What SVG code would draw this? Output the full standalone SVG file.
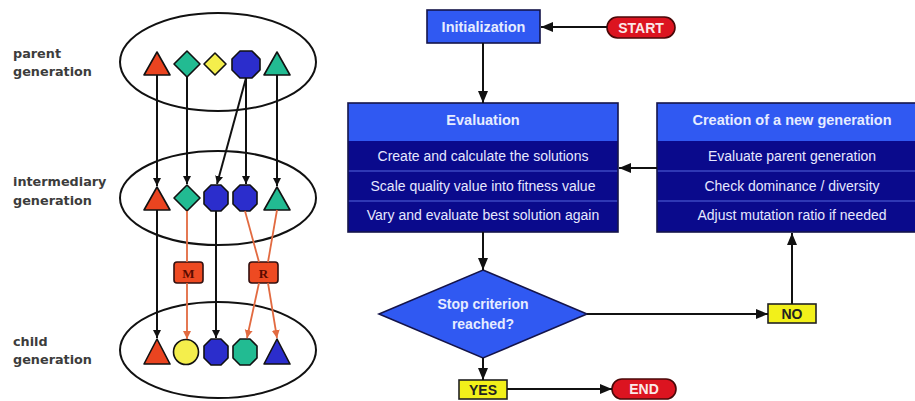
<svg xmlns="http://www.w3.org/2000/svg" width="915" height="401" viewBox="0 0 915 401">
<defs>
<style>
.lbl{font-family:"DejaVu Sans",sans-serif;font-weight:bold;font-size:12.8px;fill:#3c3c3c}
.ell{fill:none;stroke:#111;stroke-width:2}
.sh{stroke:#111;stroke-width:1.6;stroke-linejoin:round}
.red{fill:#ea4420}.teal{fill:#22bb92}.yel{fill:#f4ee4c}.blue{fill:#2b2dcc}
.blk{stroke:#111;stroke-width:2;fill:none}
.org{stroke:#e26a40;stroke-width:1.8;fill:none}
.op{fill:#ee4a22;stroke:#331010;stroke-width:1.6}
.opt{font-family:"Liberation Serif",serif;font-weight:bold;font-size:13px;fill:#5a0a00;text-anchor:middle}
.hdr{fill:#3059f2;stroke:#14144a;stroke-width:1.6}
.row{fill:#0a0a8c}
.sep{stroke:#5566dd;stroke-width:1}
.ht{font-family:"Liberation Sans",Arial,sans-serif;font-weight:bold;font-size:14.5px;fill:#e6ecff;text-anchor:middle}
.rt{font-family:"Liberation Sans",Arial,sans-serif;font-size:14px;fill:#e6e8ff;text-anchor:middle}
.pill{fill:#dc1420;stroke:#4a0808;stroke-width:1.6}
.pt{font-family:"Liberation Sans",Arial,sans-serif;font-weight:bold;font-size:14px;fill:#fbe8e8;text-anchor:middle}
.yb{fill:#f2f01a;stroke:#222;stroke-width:1.6}
.yt{font-family:"Liberation Sans",Arial,sans-serif;font-weight:bold;font-size:14px;fill:#222;text-anchor:middle}
.fl{stroke:#111;stroke-width:2;fill:none}
</style>
<marker id="ab" markerUnits="userSpaceOnUse" markerWidth="8" markerHeight="9" refX="8" refY="4" orient="auto"><path d="M0,0 L8,4 L0,8 z" fill="#111"/></marker>
<marker id="ao" markerUnits="userSpaceOnUse" markerWidth="8" markerHeight="9" refX="8" refY="4" orient="auto"><path d="M0,0 L8,4 L0,8 z" fill="#e26a40"/></marker>
<marker id="af" markerUnits="userSpaceOnUse" markerWidth="12" markerHeight="10" refX="12" refY="5" orient="auto"><path d="M0,0 L12,5 L0,10 z" fill="#111"/></marker>
</defs>
<rect width="915" height="401" fill="#fff"/>

<g id="labels">
<text class="lbl" x="13" y="58">parent</text>
<text class="lbl" x="13" y="76">generation</text>
<text class="lbl" x="13" y="186">intermediary</text>
<text class="lbl" x="13" y="205">generation</text>
<text class="lbl" x="13" y="346">child</text>
<text class="lbl" x="13" y="364">generation</text>
</g>

<g id="parent">
<ellipse class="ell" cx="218" cy="62" rx="98" ry="49"/>
<polygon class="sh red" points="157,52 170,75 144,75"/>
<polygon class="sh teal" points="187,51 200,64 187,77 174,64"/>
<polygon class="sh yel" points="215,53 226,64 215,75 204,64"/>
<polygon class="sh blue" points="240,51 252,51 260,59 260,70 252,78 240,78 232,70 232,59"/>
<polygon class="sh teal" points="277,52 290,75 264,75"/>
</g>

<g id="intermediary">
<ellipse class="ell" cx="218" cy="198" rx="98" ry="47"/>
<polygon class="sh red" points="157,187 170,210 144,210"/>
<polygon class="sh teal" points="187,185 200,198 187,211 174,198"/>
<polygon class="sh blue" points="211,185 221,185 228,192 228,204 221,211 211,211 204,204 204,192"/>
<polygon class="sh blue" points="240,185 250,185 257,192 257,204 250,211 240,211 233,204 233,192"/>
<polygon class="sh teal" points="277,187 290,210 264,210"/>
</g>

<g id="child">
<ellipse class="ell" cx="218" cy="350" rx="98" ry="48"/>
<polygon class="sh red" points="157,339 170,364 144,364"/>
<circle class="sh yel" cx="186" cy="352" r="12.5"/>
<polygon class="sh blue" points="211,339 221,339 228,346 228,358 221,365 211,365 204,358 204,346"/>
<polygon class="sh teal" points="240,339 250,339 257,346 257,358 250,365 240,365 233,358 233,346"/>
<polygon class="sh blue" points="277,339 290,364 264,364"/>
</g>

<g id="ops">
<g id="op-M"><rect class="op" x="174" y="262" width="29" height="21" rx="3"/><text class="opt" x="188.5" y="277.5">M</text></g>
<g id="op-R"><rect class="op" x="249" y="262" width="29" height="21" rx="3"/><text class="opt" x="263.5" y="277.5">R</text></g>
</g>

<g id="connectors-left">
<line class="blk" x1="157" y1="75" x2="157" y2="186" marker-end="url(#ab)"/>
<line class="blk" x1="187" y1="77" x2="187" y2="184" marker-end="url(#ab)"/>
<line class="blk" x1="246" y1="78" x2="217" y2="184" marker-end="url(#ab)"/>
<line class="blk" x1="246" y1="78" x2="246" y2="184" marker-end="url(#ab)"/>
<line class="blk" x1="277" y1="75" x2="277" y2="186" marker-end="url(#ab)"/>
<line class="blk" x1="157" y1="210" x2="157" y2="338" marker-end="url(#ab)"/>
<line class="blk" x1="216" y1="211" x2="216" y2="338" marker-end="url(#ab)"/>
<line class="org" x1="187" y1="211" x2="187" y2="262"/>
<line class="org" x1="187" y1="283" x2="187" y2="339" marker-end="url(#ao)"/>
<line class="org" x1="245" y1="211" x2="259" y2="262"/>
<line class="org" x1="277" y1="210" x2="268" y2="262"/>
<line class="org" x1="259" y1="283" x2="247" y2="338" marker-end="url(#ao)"/>
<line class="org" x1="268" y1="283" x2="277" y2="338" marker-end="url(#ao)"/>
</g>

<g id="start"><rect class="pill" x="607" y="17" width="68" height="21" rx="10.5"/><text class="pt" x="641" y="32.5">START</text></g>
<g id="init"><rect class="hdr" x="427" y="10" width="113" height="33"/><text class="ht" x="483.5" y="32">Initialization</text></g>

<g id="evaluation">
<rect class="row" x="348" y="103" width="270" height="129"/>
<rect fill="#3059f2" x="348" y="103" width="270" height="38"/>
<line class="sep" x1="348" y1="171" x2="618" y2="171"/>
<line class="sep" x1="348" y1="201" x2="618" y2="201"/>
<rect x="348" y="103" width="270" height="129" fill="none" stroke="#14144a" stroke-width="1.6"/>
<text class="ht" x="483" y="125">Evaluation</text>
<text class="rt" x="483" y="161">Create and calculate the solutions</text>
<text class="rt" x="483" y="191">Scale quality value into fitness value</text>
<text class="rt" x="483" y="220">Vary and evaluate best solution again</text>
</g>

<g id="creation">
<rect class="row" x="657" y="103" width="270" height="129"/>
<rect fill="#3059f2" x="657" y="103" width="270" height="38"/>
<line class="sep" x1="657" y1="171" x2="927" y2="171"/>
<line class="sep" x1="657" y1="201" x2="927" y2="201"/>
<rect x="657" y="103" width="270" height="129" fill="none" stroke="#14144a" stroke-width="1.6"/>
<text class="ht" x="792" y="125">Creation of a new generation</text>
<text class="rt" x="792" y="161">Evaluate parent generation</text>
<text class="rt" x="792" y="191">Check dominance / diversity</text>
<text class="rt" x="792" y="220">Adjust mutation ratio if needed</text>
</g>

<g id="decision">
<polygon class="hdr" points="483,270 587,314 483,358 379,314"/>
<text class="ht" x="483" y="309" style="font-size:14px">Stop criterion</text>
<text class="ht" x="483" y="329" style="font-size:14px">reached?</text>
</g>

<g id="no"><rect class="yb" x="768" y="304" width="48" height="19"/><text class="yt" x="792" y="319">NO</text></g>
<g id="yes"><rect class="yb" x="459" y="380" width="48" height="19"/><text class="yt" x="483" y="395">YES</text></g>
<g id="end"><rect class="pill" x="612" y="379" width="64" height="20" rx="10"/><text class="pt" x="644" y="394">END</text></g>

<g id="connectors">
<line class="fl" x1="607" y1="27" x2="541" y2="27" marker-end="url(#af)"/>
<line class="fl" x1="483" y1="43" x2="483" y2="103" marker-end="url(#af)"/>
<line class="fl" x1="657" y1="168" x2="619" y2="168" marker-end="url(#af)"/>
<line class="fl" x1="483" y1="232" x2="483" y2="270" marker-end="url(#af)"/>
<line class="fl" x1="587" y1="314" x2="768" y2="314" marker-end="url(#af)"/>
<line class="fl" x1="792" y1="304" x2="792" y2="233" marker-end="url(#af)"/>
<line class="fl" x1="483" y1="358" x2="483" y2="380" marker-end="url(#af)"/>
<line class="fl" x1="507" y1="389" x2="612" y2="389" marker-end="url(#af)"/>
</g>
</svg>
